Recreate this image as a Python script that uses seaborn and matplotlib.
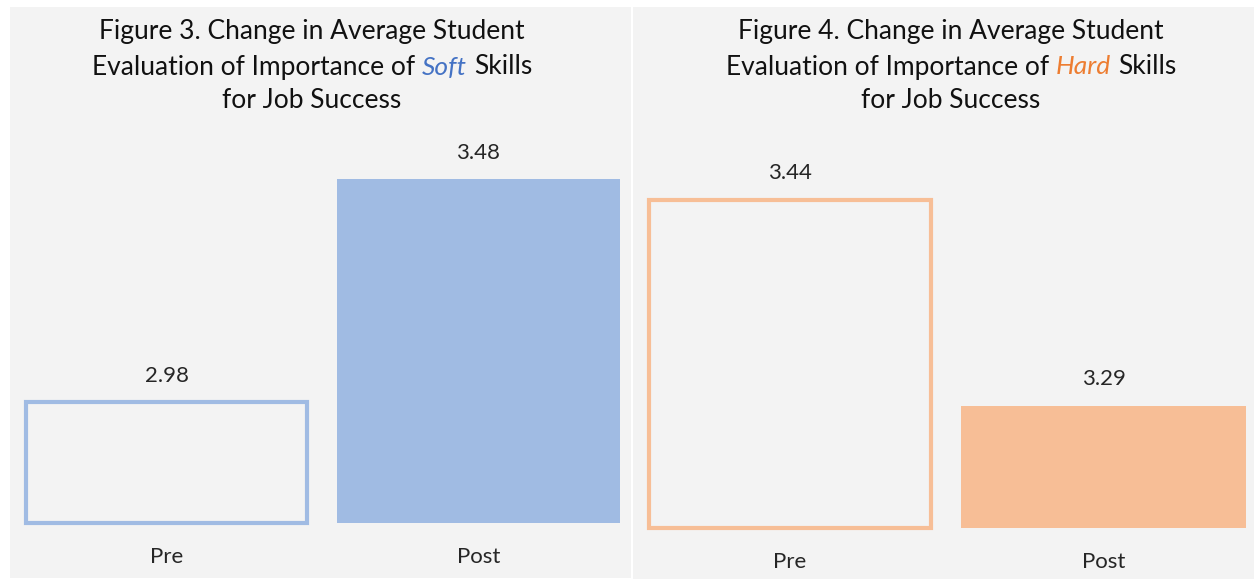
import matplotlib
matplotlib.use("Agg")
import matplotlib.pyplot as plt
import seaborn as sns
from matplotlib.patches import Rectangle

# ---- data ----
categories = ["Pre", "Post"]
soft_values = [2.98, 3.48]
hard_values = [3.44, 3.29]
soft_labels = ["2.98", "3.48"]
hard_labels = ["3.44", "3.29"]

sns.set_theme(style="white")
plt.rcParams["font.family"] = ["Lato", "DejaVu Sans"]

W, H = 1254, 579
DPI = 100
fig = plt.figure(figsize=(W / DPI, H / DPI), dpi=DPI)
fig.patch.set_facecolor("white")

BG = "#f3f3f3"
BLUE = "#a0bbe3"
ORANGE = "#f7be96"
BLUE_TXT = "#4472c4"
ORANGE_TXT = "#ed7d31"

def fx(px):
    return px / W

def fy(py):
    return 1 - py / H

# panel backgrounds
fig.patches.append(Rectangle((fx(10), fy(578)), fx(621), (578 - 7) / H,
                             transform=fig.transFigure, facecolor=BG, edgecolor="none", zorder=-5))
fig.patches.append(Rectangle((fx(633), fy(579)), fx(621), (579 - 7) / H,
                             transform=fig.transFigure, facecolor=BG, edgecolor="none", zorder=-5))

TITLE_FS = 19
VAL_FS = 16
TICK_FS = 16

def rich_line(xc, ypx, parts):
    fig.canvas.draw()
    r = fig.canvas.get_renderer()
    probe1 = fig.text(0, 0, "xx", fontsize=TITLE_FS)
    probe2 = fig.text(0, 0, "x x", fontsize=TITLE_FS)
    sp = probe2.get_window_extent(r).width - probe1.get_window_extent(r).width
    probe1.remove(); probe2.remove()
    texts = []
    for s, props in parts:
        t = fig.text(0, fy(ypx), s, ha="left", va="center", fontsize=TITLE_FS,
                     color=props.get("color", "#111111"), style=props.get("style", "normal"))
        texts.append(t)
    widths = [t.get_window_extent(r).width for t in texts]
    total = sum(widths) + sp * (len(texts) - 1)
    x = xc - total / 2
    for t, w in zip(texts, widths):
        t.set_x(fx(x))
        x += w + sp

def title_block(xc, lines_y, word, wcolor):
    fig.text(fx(xc), fy(lines_y[0]), "Figure %s. Change in Average Student" % ("3" if word == "Soft" else "4"),
             ha="center", va="center", fontsize=TITLE_FS, color="#111111")
    rich_line(xc, lines_y[1], [("Evaluation of Importance of", {}),
                               (word, {"color": wcolor, "style": "italic"}),
                               ("Skills", {})])
    fig.text(fx(xc), fy(lines_y[2]), "for Job Success",
             ha="center", va="center", fontsize=TITLE_FS, color="#111111")

def panel(ax, values, labels, color, base):
    sns.barplot(x=categories, y=values, ax=ax, width=0.91, color=color, saturation=1)
    for i, (p, v) in enumerate(zip(ax.patches, values)):
        p.set_y(base)
        p.set_height(v - base)
        p.set_clip_on(False)
        if i == 0:
            lw = 3.0
            inset = 0.004
            p.set_facecolor("none")
            p.set_edgecolor(color)
            p.set_linewidth(lw)
            p.set_x(p.get_x() + inset)
            p.set_width(p.get_width() - 2 * inset)
        else:
            p.set_edgecolor("none")
            p.set_linewidth(0)
        ax.annotate(labels[i], (p.get_x() + p.get_width() / 2, v), xytext=(0, 19),
                    textcoords="offset points", ha="center", va="center",
                    fontsize=VAL_FS, color="#262626")
    ax.set_facecolor("none")
    for s in ax.spines.values():
        s.set_visible(False)
    ax.set_yticks([])
    ax.set_xlabel("")
    ax.set_ylabel("")
    ax.tick_params(axis="x", length=0, pad=17, labelsize=TICK_FS, labelcolor="#262626")

# left axes: centers at 166.5 and 478.5 px, baseline 523 px
l_ax = fig.add_axes([fx(10), fy(523), fx(622), (523 - 140) / H])
b_left = 2.709
panel(l_ax, soft_values, soft_labels, BLUE, b_left)
l_ax.set_xlim((10 - 166.5) / 312, (632 - 166.5) / 312)
l_ax.set_ylim(b_left, b_left + (523 - 140) / 446)

# right axes: centers at 790 and 1103.5 px, baseline 528 px
r_ax = fig.add_axes([fx(633), fy(528), fx(621), (528 - 140) / H])
b_right = 3.201
panel(r_ax, hard_values, hard_labels, ORANGE, b_right)
r_ax.set_xlim((633 - 790) / 313.5, (1254 - 790) / 313.5)
r_ax.set_ylim(b_right, b_right + (528 - 140) / 1373)

title_block(312, [32, 67, 101], "Soft", BLUE_TXT)
title_block(951, [32, 67, 101], "Hard", ORANGE_TXT)

fig.savefig("out.png", dpi=DPI, facecolor="white")
